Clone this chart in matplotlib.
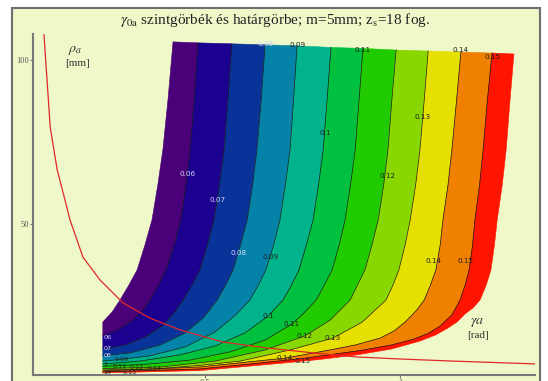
import matplotlib
matplotlib.use("Agg")
import matplotlib.pyplot as plt
from matplotlib.patches import Rectangle

plt.rcParams['mathtext.fontset'] = 'stix'

# szintvonalak (gamma_0a) - pontok leolvasva: gamma_a [rad], rho [mm]
levels = [0.05, 0.06, 0.07, 0.08, 0.09, 0.10, 0.11, 0.12, 0.13, 0.14, 0.15, 0.16]

x05 = [0.238, 0.262, 0.282, 0.305, 0.326, 0.346, 0.364, 0.379, 0.392, 0.405, 0.418]
y05 = [20.1, 23.2, 26.8, 31.4, 36.0, 43.6, 51.2, 61.9, 72.6, 87.8, 105.5]
x06 = [0.238, 0.277, 0.315, 0.341, 0.359, 0.381, 0.400, 0.421, 0.438, 0.451, 0.462, 0.472, 0.482]
y06 = [15.9, 17.7, 20.7, 23.8, 26.8, 31.4, 36.0, 43.6, 51.2, 61.9, 72.6, 87.8, 105.2]
x07 = [0.238, 0.295, 0.346, 0.390, 0.421, 0.444, 0.467, 0.487, 0.506, 0.523, 0.537, 0.549, 0.559, 0.569]
y07 = [11.9, 13.1, 15.5, 18.9, 22.9, 26.8, 31.4, 36.0, 43.6, 51.2, 61.9, 72.6, 87.8, 104.9]
x08 = [0.238, 0.308, 0.385, 0.449, 0.495, 0.531, 0.553, 0.572, 0.591, 0.608, 0.622, 0.633, 0.644, 0.654]
y08 = [9.8, 10.7, 13.1, 16.8, 21.3, 26.8, 31.4, 36.0, 43.6, 51.2, 61.9, 72.6, 87.8, 104.6]
x09 = [0.238, 0.282, 0.359, 0.449, 0.526, 0.579, 0.615, 0.637, 0.656, 0.676, 0.692, 0.706, 0.718, 0.727, 0.736]
y09 = [8.2, 8.7, 9.8, 12.5, 17.1, 22.3, 26.8, 31.4, 36.0, 43.6, 51.2, 61.9, 72.6, 87.8, 104.3]
x10 = [0.238, 0.333, 0.436, 0.526, 0.603, 0.662, 0.700, 0.722, 0.741, 0.760, 0.777, 0.791, 0.803, 0.813, 0.823]
y10 = [7.3, 8.2, 10.1, 12.8, 16.8, 22.0, 26.8, 31.4, 36.0, 43.6, 51.2, 61.9, 72.6, 87.8, 103.8]
x11 = [0.238, 0.346, 0.462, 0.564, 0.654, 0.723, 0.754, 0.785, 0.806, 0.826, 0.844, 0.859, 0.873, 0.885, 0.895, 0.905]
y11 = [6.6, 7.2, 8.5, 11.0, 14.6, 19.5, 22.9, 26.8, 31.4, 36.0, 43.6, 51.2, 61.9, 72.6, 87.8, 103.5]
x12 = [0.238, 0.385, 0.526, 0.654, 0.756, 0.821, 0.872, 0.891, 0.910, 0.928, 0.944, 0.958, 0.969, 0.979, 0.990]
y12 = [5.9, 6.4, 8.2, 11.6, 15.9, 20.7, 26.8, 31.4, 36.0, 43.6, 51.2, 61.9, 72.6, 87.8, 103.0]
x13 = [0.238, 0.367, 0.487, 0.590, 0.718, 0.828, 0.903, 0.964, 0.982, 0.997, 1.013, 1.026, 1.040, 1.051, 1.062, 1.072]
y13 = [5.5, 5.8, 6.9, 8.2, 11.6, 15.2, 20.1, 26.8, 31.4, 36.0, 43.6, 51.2, 61.9, 72.6, 87.8, 102.7]
x14 = [0.238, 0.487, 0.705, 0.821, 0.885, 0.949, 0.985, 1.013, 1.041, 1.062,
       1.078, 1.092, 1.103, 1.110, 1.123, 1.133, 1.145, 1.156]
y14 = [5.2, 6.4, 9.1, 11.6, 13.1, 15.2, 17.4, 20.1, 23.5, 26.8,
       31.4, 36.0, 43.6, 51.2, 61.9, 72.6, 87.8, 102.4]
x15 = [0.238, 0.487, 0.615, 0.751, 0.897, 0.974, 1.033, 1.072, 1.103, 1.133, 1.154,
       1.167, 1.177, 1.186, 1.192, 1.204, 1.213, 1.224, 1.236]
y15 = [4.9, 5.8, 7.3, 9.0, 11.4, 13.0, 14.8, 16.6, 18.9, 22.3, 26.8,
       31.4, 36.0, 43.6, 51.2, 61.9, 72.6, 87.8, 102.1]
x16 = [0.238, 0.487, 0.692, 0.795, 0.890, 0.979, 1.051, 1.092, 1.123, 1.146, 1.167, 1.187, 1.205,
       1.221, 1.233, 1.242, 1.249, 1.262, 1.272, 1.282, 1.292]
y16 = [4.6, 5.3, 7.5, 8.7, 10.1, 11.9, 14.3, 16.2, 18.3, 20.1, 22.6, 24.4, 26.8,
       31.4, 36.0, 43.6, 51.2, 61.9, 72.6, 87.8, 101.8]

band_colors = ['#4a0078', '#1c0090', '#0a3399', '#0482a8', '#00b38c', '#00c040',
               '#20cc00', '#88d800', '#e6e000', '#f08000', '#ff1400']

# hatargorbe
hx = [0.087, 0.095, 0.103, 0.121, 0.141, 0.154, 0.187, 0.231, 0.290, 0.359,
      0.436, 0.546, 0.659, 0.777, 0.890, 1.000, 1.128, 1.351]
hy = [107.9, 93.9, 79.6, 66.5, 57.3, 51.2, 39.9, 32.9, 25.9, 21.3,
      17.7, 14.0, 12.2, 10.7, 9.45, 8.84, 8.23, 7.32]

# feliratok a szintvonalakon
lab_text = ['0.06', '0.07', '0.08', '0.09', '0.1', '0.12', '0.13', '0.14', '0.15',
            '0.1', '0.11', '0.12', '0.13', '0.14', '0.15',
            '0.08', '0.09', '0.11', '0.14', '0.15']
lab_x = [0.456, 0.533, 0.587, 0.669, 0.808, 0.967, 1.059, 1.085, 1.167,
         0.662, 0.723, 0.756, 0.828, 0.705, 0.751,
         0.654, 0.736, 0.905, 1.156, 1.236]
lab_y = [65.2, 57.3, 41.2, 39.9, 77.7, 64.6, 82.6, 38.7, 38.7,
         21.9, 19.5, 15.9, 15.2, 9.1, 8.2,
         104.9, 104.6, 103.0, 103.0, 100.9]
lab_light = ['0.06', '0.07', '0.08']

# a bal also sarok zsufolt feliratai
low_text = ['0.09', '0.11', '0.12', '0.13', '0.15']
low_x = [0.287, 0.282, 0.326, 0.372, 0.308]
low_y = [8.8, 6.4, 6.1, 5.8, 4.6]

edge_text = ['06', '07', '08', '1', '14']
edge_y = [15.5, 11.9, 9.8, 7.3, 4.6]

xs = [x05, x06, x07, x08, x09, x10, x11, x12, x13, x14, x15, x16]
ys = [y05, y06, y07, y08, y09, y10, y11, y12, y13, y14, y15, y16]

fig = plt.figure(figsize=(5.48, 3.81), dpi=100)
fig.patch.set_facecolor('white')
frame = Rectangle((12 / 548, -0.02), 528 / 548, 1 - 8 / 381 + 0.02, transform=fig.transFigure,
                  facecolor='#eef8c8', edgecolor='#6e6e6e', lw=1.5, zorder=0)
fig.add_artist(frame)

ax = fig.add_axes([33 / 548, 6 / 381, 502 / 548, 341 / 381])
ax.set_facecolor('none')
ax.set_xlim(0.059, 1.346)
ax.set_ylim(3.96, 107.9)

for i in range(len(band_colors)):
    px = xs[i] + xs[i + 1][::-1]
    py = ys[i] + ys[i + 1][::-1]
    ax.fill(px, py, color=band_colors[i], lw=0.4, zorder=1)

for i in range(1, len(xs) - 1):
    ax.plot(xs[i], ys[i], color='#1a1a1a', lw=0.5, zorder=2)

ax.plot(hx, hy, color='#e02828', lw=0.9, zorder=3)

for t, x, y in zip(lab_text, lab_x, lab_y):
    c = '#d8d4ff' if t in lab_light else '#202020'
    ax.text(x, y, t, fontsize=5.2, color=c, ha='center', va='center', zorder=4)
for t, x, y in zip(low_text, low_x, low_y):
    ax.text(x, y, t, fontsize=4.6, color='#202020', ha='center', va='center', zorder=4)
for t, y in zip(edge_text, edge_y):
    c = '#d8d4ff' if t in ['06', '07', '08'] else '#202020'
    ax.text(0.239, y, t, fontsize=4.6, color=c, ha='left', va='center', zorder=4)

for s in ['top', 'right']:
    ax.spines[s].set_visible(False)
for s in ['left', 'bottom']:
    ax.spines[s].set_color('#7a7a7a')
    ax.spines[s].set_linewidth(1.5)
ax.set_yticks([50, 100])
ax.set_yticklabels(['50', '100'], fontsize=6, color='#555555', family='Liberation Serif')
ax.set_xticks([0.5, 1.0])
ax.set_xticklabels(['0.5', '1'], fontsize=6, color='#555555', family='Liberation Serif')
ax.tick_params(length=2, width=0.8, color='#7a7a7a', pad=1)

fig.text(0.502, 1 - 20 / 381,
         r'$\gamma_{0\mathrm{a}}$ szintgörbék és határgörbe; m=5mm; z$_\mathrm{s}$=18 fog.',
         ha='center', va='center', fontsize=11, family='Liberation Serif', color='#222222')
fig.text(75 / 548, 1 - 50 / 381, r'$\rho_a$', ha='center', va='center', fontsize=10, color='#333333')
fig.text(77 / 548, 1 - 63 / 381, '[mm]', ha='center', va='center', fontsize=8,
         family='Liberation Serif', color='#333333')
fig.text(477 / 548, 1 - 322 / 381, r'$\gamma a$', ha='center', va='center', fontsize=10, color='#333333')
fig.text(478 / 548, 1 - 336 / 381, '[rad]', ha='center', va='center', fontsize=8,
         family='Liberation Serif', color='#333333')

fig.savefig('out.png', dpi=100)
